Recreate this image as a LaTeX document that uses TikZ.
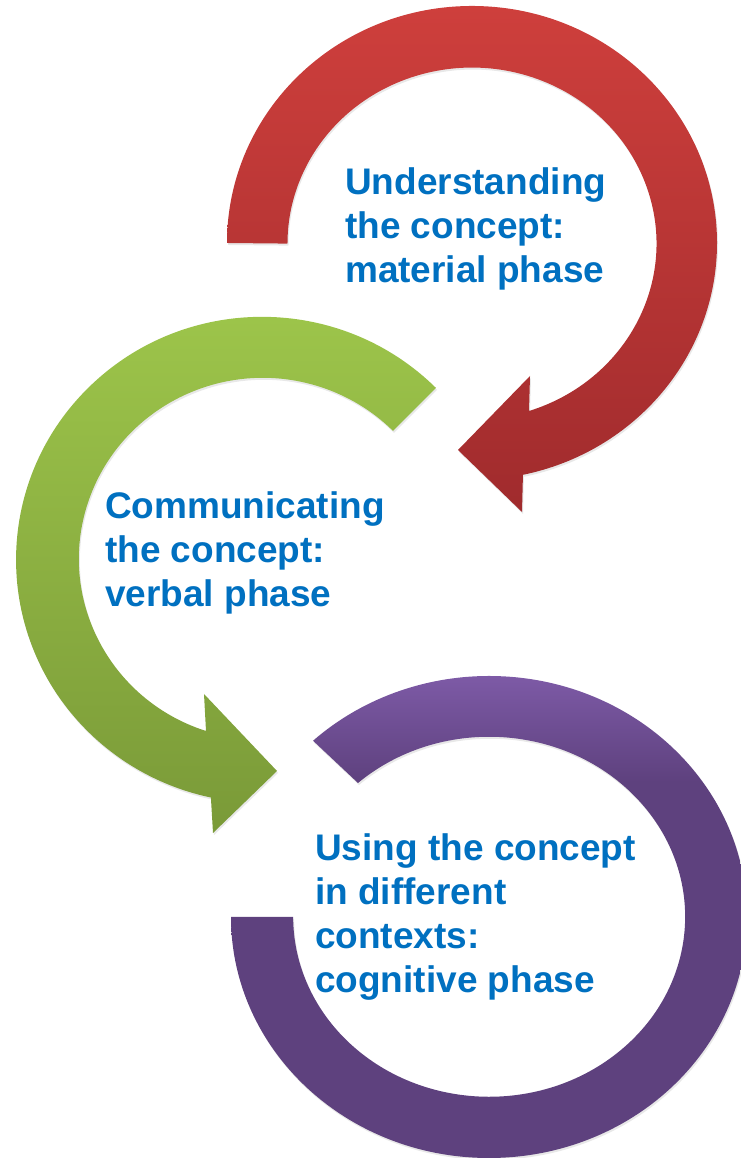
\documentclass[tikz,border=0pt]{standalone}
\usepackage{fontspec}
\setmainfont{Liberation Sans}
\usetikzlibrary{shadows}
\definecolor{txtblue}{HTML}{0070C0}
\definecolor{redtop}{HTML}{CE3F3C}
\definecolor{redbot}{HTML}{A02B2D}
\definecolor{greentop}{HTML}{9EC64B}
\definecolor{greenbot}{HTML}{7A9A38}
\definecolor{purptop}{HTML}{7D5AA6}
\definecolor{purpbot}{HTML}{5E417E}
\pgfdeclareverticalshading{purpshade}{100bp}{color(0bp)=(purpbot); color(25bp)=(purpbot); color(64bp)=(purpbot); color(75bp)=(purptop); color(100bp)=(purptop)}
\tikzset{
  band/.style={draw=none, drop shadow={opacity=0.18, shadow xshift=1pt, shadow yshift=-2pt}},
  phase/.style={anchor=base west, inner sep=0pt, align=left, text=txtblue,
    font=\fontsize{37}{44}\selectfont\bfseries}
}
\begin{document}
\begin{tikzpicture}[x=1pt,y=1pt]
\useasboundingbox (0,0) rectangle (740,1158);
% purple band (no head)
\path[band, shading=purpshade]
  (231,241) arc[start angle=180, end angle=493, x radius=258, y radius=241]
  -- (358,375) arc[start angle=492, end angle=180, x radius=196, y radius=180] -- cycle;
% green arrow
\path[band, top color=greentop, bottom color=greenbot]
  (436,770) arc[start angle=45, end angle=258, x radius=246, y radius=243]
  -- (213,325) -- (277,387) -- (204,464) -- (206,427)
  arc[start angle=252, end angle=45, x radius=184, y radius=181] -- cycle;
% red arrow
\path[band, top color=redtop, bottom color=redbot]
  (227,915) arc[start angle=180, end angle=-78, x radius=245, y radius=237]
  -- (522,646) -- (458,708) -- (530,782) -- (529,747)
  arc[start angle=-72, end angle=180, x radius=184.5, y radius=176] -- cycle;
% texts (anchor = baseline of last line)
\node[phase] (material) at (345,875) {Understanding\\the concept:\\material phase};
\node[phase] (verbal) at (105,551) {Communicating\\the concept:\\verbal phase};
\node[phase] (cognitive) at (315,165) {Using the concept\\in different\\contexts:\\cognitive phase};
\end{tikzpicture}
\end{document}
